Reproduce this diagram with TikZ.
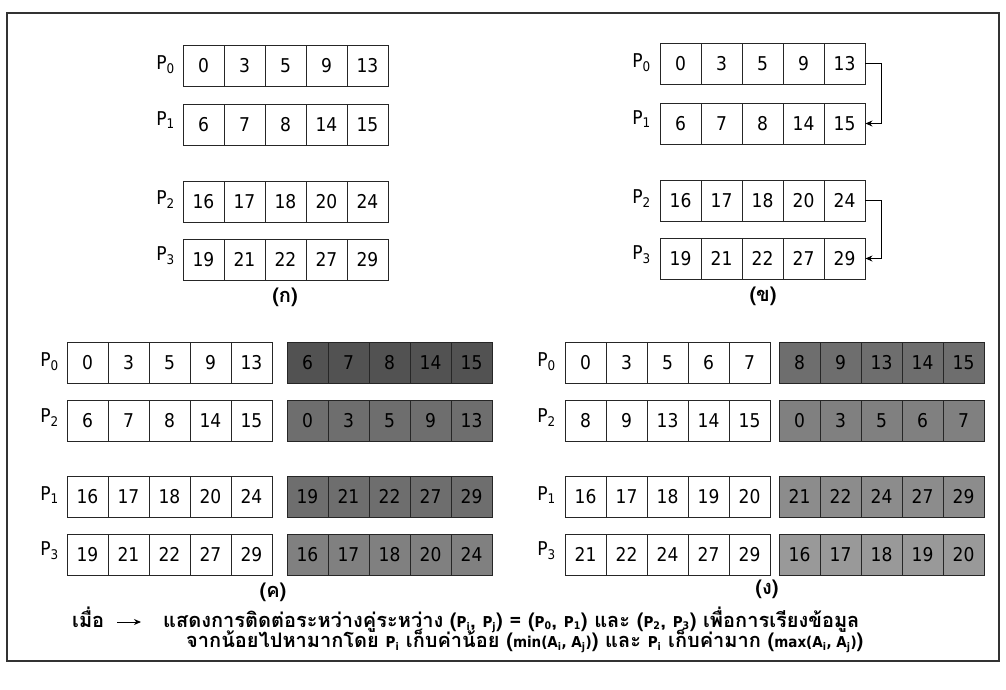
\documentclass[tikz,border=0pt]{standalone}
\usepackage{fontspec}
\setmainfont{DejaVu Sans Condensed}
\newfontfamily\thaifont[Script=Thai]{Loma}
\newfontfamily\numfont{DejaVu Sans Condensed}
\usetikzlibrary{arrows.meta}
\tikzset{
  cell/.style={draw=black!85, line width=0.9pt, minimum width=41pt, minimum height=41pt, inner sep=0pt, font=\numfont\fontsize{19}{19}\selectfont},
  gA/.style={cell, fill=black!68},
  gB/.style={cell, fill=black!57},
  gC/.style={cell, fill=black!50},
  gD/.style={cell, fill=black!45},
  gE/.style={cell, fill=black!40},
  plabel/.style={anchor=east, inner sep=0pt, font=\numfont\fontsize{19}{19}\selectfont},
  sublabel/.style={inner sep=0pt, font=\thaifont\bfseries\fontsize{20}{20}\selectfont},
  capt/.style={anchor=base west, inner sep=0pt, text height=10pt, text depth=3pt, font=\thaifont\bfseries\fontsize{20}{20}\selectfont},
  link/.style={draw=black, line width=0.9pt, -{Stealth[length=7pt,width=6pt]}},
  frame/.style={draw=black!80, line width=1.1pt}
}
\newcommand\cellrow[5]{\foreach \v [count=\i] in {#5} {\node[#1] (#2-\i) at ({#3+(\i-0.5)*41},{#4+20.5}) {\v};}}
\newcommand\ps[1]{{\numfont\fontsize{15}{15}\selectfont\bfseries P\textsubscript{#1}}}
\newcommand\fn[1]{{\numfont\fontsize{15}{15}\selectfont\bfseries #1}}
\begin{document}
\begin{tikzpicture}[x=1pt,y=-1pt]
\useasboundingbox (0,0) rectangle (1006,689);
\draw[frame] (7,13) rectangle (999,661);
% (a) top-left
\cellrow{cell}{a0}{183}{45}{0,3,5,9,13}
\cellrow{cell}{a1}{183}{104}{6,7,8,14,15}
\cellrow{cell}{a2}{183}{181}{16,17,18,20,24}
\cellrow{cell}{a3}{183}{239}{19,21,22,27,29}
\node[plabel] (la0) at (175,65) {P\textsubscript{0}};
\node[plabel] (la1) at (175,120) {P\textsubscript{1}};
\node[plabel] (la2) at (175,200) {P\textsubscript{2}};
\node[plabel] (la3) at (175,256) {P\textsubscript{3}};
\node[sublabel] (ta) at (285,297) {(ก)};
% (b) top-right
\cellrow{cell}{b0}{660}{43}{0,3,5,9,13}
\cellrow{cell}{b1}{660}{103}{6,7,8,14,15}
\cellrow{cell}{b2}{660}{180}{16,17,18,20,24}
\cellrow{cell}{b3}{660}{238}{19,21,22,27,29}
\node[plabel] (lb0) at (651,63) {P\textsubscript{0}};
\node[plabel] (lb1) at (651,119) {P\textsubscript{1}};
\node[plabel] (lb2) at (651,199) {P\textsubscript{2}};
\node[plabel] (lb3) at (651,255) {P\textsubscript{3}};
\node[sublabel] (tb) at (763,296) {(ข)};
\draw[link] (b0-5.east) -- ++(16,0) |- (b1-5.east);
\draw[link] (b2-5.east) -- ++(16,0) |- (b3-5.east);
% (c) bottom-left
\cellrow{cell}{c0}{67}{342}{0,3,5,9,13}
\cellrow{gA}{c0g}{287}{342}{6,7,8,14,15}
\cellrow{cell}{c2}{67}{400}{6,7,8,14,15}
\cellrow{gB}{c2g}{287}{400}{0,3,5,9,13}
\cellrow{cell}{c1}{67}{476}{16,17,18,20,24}
\cellrow{gB}{c1g}{287}{476}{19,21,22,27,29}
\cellrow{cell}{c3}{67}{534}{19,21,22,27,29}
\cellrow{gC}{c3g}{287}{534}{16,17,18,20,24}
\node[plabel] (lc0) at (59,362) {P\textsubscript{0}};
\node[plabel] (lc2) at (59,418) {P\textsubscript{2}};
\node[plabel] (lc1) at (59,495) {P\textsubscript{1}};
\node[plabel] (lc3) at (59,551) {P\textsubscript{3}};
\node[sublabel] (tc) at (273,592) {(ค)};
% (d) bottom-right
\cellrow{cell}{d0}{565}{342}{0,3,5,6,7}
\cellrow{gB}{d0g}{779}{342}{8,9,13,14,15}
\cellrow{cell}{d2}{565}{400}{8,9,13,14,15}
\cellrow{gC}{d2g}{779}{400}{0,3,5,6,7}
\cellrow{cell}{d1}{565}{476}{16,17,18,19,20}
\cellrow{gD}{d1g}{779}{476}{21,22,24,27,29}
\cellrow{cell}{d3}{565}{534}{21,22,24,27,29}
\cellrow{gE}{d3g}{779}{534}{16,17,18,19,20}
\node[plabel] (ld0) at (556,362) {P\textsubscript{0}};
\node[plabel] (ld2) at (556,418) {P\textsubscript{2}};
\node[plabel] (ld1) at (556,495) {P\textsubscript{1}};
\node[plabel] (ld3) at (556,551) {P\textsubscript{3}};
\node[sublabel] (td) at (767,589) {(ง)};
% caption
\node[capt] (cw) at (72,627) {เมื่อ};
\coordinate (ca1) at (117,622);
\coordinate (ca2) at (141,622);
\draw[link] (ca1) -- (ca2);
\node[capt] (c1) at (163,627) {แสดงการติดต่อระหว่างคู่ระหว่าง (\ps{i}, \ps{j}) = (\ps{0}, \ps{1}) และ (\ps{2}, \ps{3}) เพื่อการเรียงข้อมูล};
\node[capt] (c2) at (186,647) {จากน้อยไปหามากโดย \ps{i} เก็บค่าน้อย (\fn{min(A\textsubscript{i}, A\textsubscript{j})}) และ \ps{i} เก็บค่ามาก (\fn{max(A\textsubscript{i}, A\textsubscript{j})})};
\end{tikzpicture}
\end{document}
